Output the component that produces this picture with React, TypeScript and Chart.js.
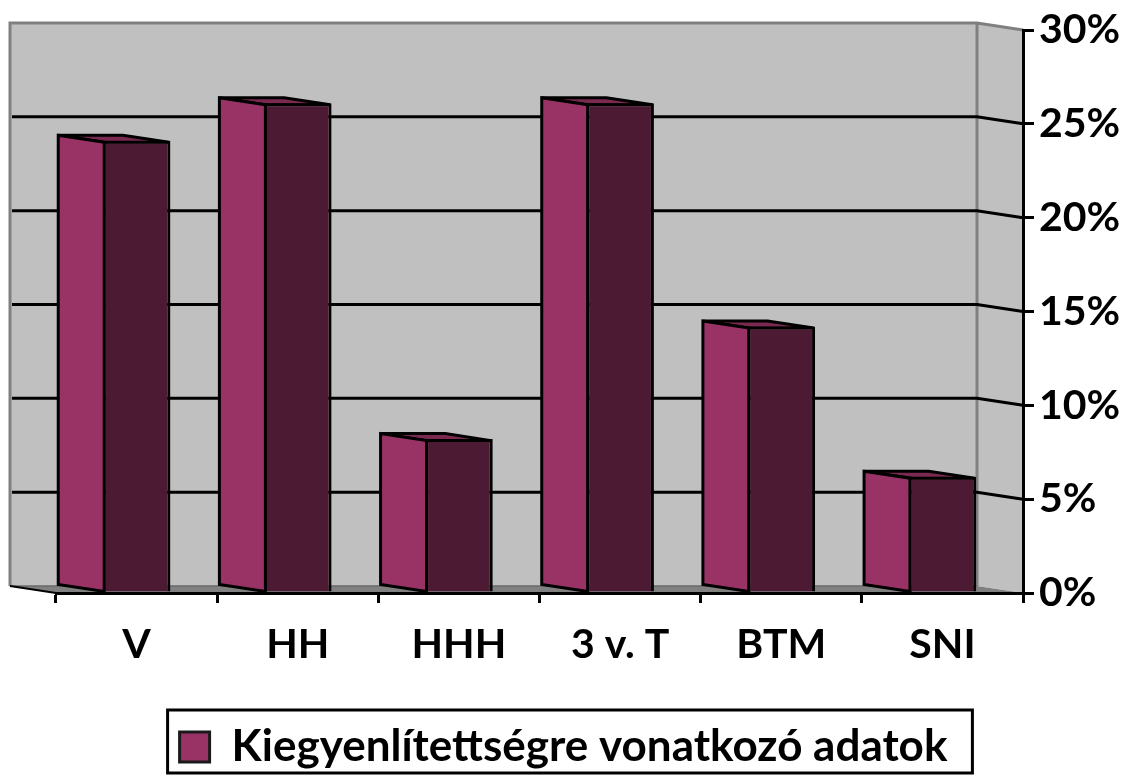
import React, { useEffect, useRef } from "react";
import { Chart, registerables } from "chart.js";

Chart.register(...registerables);

const categories = ["V", "HH", "HHH", "3 v. T", "BTM", "SNI"];
const seriesName = "Kiegyenlítettségre vonatkozó adatok";
const values = [24.1, 26.1, 8.2, 26.1, 14.2, 6.2];

const FONT = "Lato";
const DX = 46;
const DY = 7;
const PINK = "#993366";
const DARK = "#4c1a33";
const TOP = "#7a2950";
const WALL = "#c0c0c0";
const GREY = "#808080";
const BW = 3;

function poly(ctx: CanvasRenderingContext2D, pts: number[][], fill: string | null, stroke: string | null, lw = BW) {
  ctx.beginPath();
  pts.forEach(([x, y], i) => (i ? ctx.lineTo(x, y) : ctx.moveTo(x, y)));
  ctx.closePath();
  if (fill) {
    ctx.fillStyle = fill;
    ctx.fill();
  }
  if (stroke) {
    ctx.strokeStyle = stroke;
    ctx.lineWidth = lw;
    ctx.lineJoin = "miter";
    ctx.stroke();
  }
}

const plugin3d = {
  id: "plugin3d",
  afterLayout(chart: any) {
    // Centre the legend on the page's legend frame rather than on the padded area.
    chart.legend.left -= 28;
    chart.legend.right -= 28;
  },
  beforeDraw(chart: any) {
    const { ctx, chartArea: a } = chart;
    ctx.save();
    const bx0 = a.left - DX;
    const bx1 = a.right - DX;
    const by0 = a.top - DY;
    const by1 = a.bottom - DY;
    poly(ctx, [[bx1, by0], [a.right, a.top], [a.right, a.bottom], [bx1, by1]], WALL, null);
    poly(ctx, [[bx0, by0], [bx1, by0], [bx1, by1], [bx0, by1]], WALL, null);
    poly(ctx, [[bx0, by1], [bx1, by1], [a.right, a.bottom], [a.left, a.bottom]], GREY, null);
    ctx.strokeStyle = GREY;
    ctx.lineWidth = 3;
    ctx.beginPath();
    ctx.moveTo(bx0, by1);
    ctx.lineTo(bx0, by0);
    ctx.lineTo(bx1, by0);
    ctx.lineTo(a.right, a.top);
    ctx.moveTo(bx1, by0);
    ctx.lineTo(bx1, by1);
    ctx.stroke();
    ctx.strokeStyle = "#6a6a6a";
    ctx.lineWidth = 1.5;
    ctx.beginPath();
    ctx.moveTo(bx0, by1);
    ctx.lineTo(bx1, by1);
    ctx.stroke();
    ctx.strokeStyle = "#000";
    ctx.lineWidth = 2;
    ctx.beginPath();
    ctx.moveTo(bx0, by1);
    ctx.lineTo(a.left, a.bottom);
    ctx.stroke();
    const y = chart.scales.y;
    ctx.lineWidth = 3;
    y.ticks.forEach((t: any) => {
      if (t.value === 0 || t.value === y.max) return;
      const py = y.getPixelForValue(t.value);
      ctx.beginPath();
      ctx.moveTo(bx0 + 2, py - DY);
      ctx.lineTo(bx1, py - DY);
      ctx.lineTo(a.right, py);
      ctx.stroke();
    });
    ctx.restore();
  },
  beforeDatasetsDraw(chart: any) {
    const { ctx } = chart;
    ctx.save();
    chart.getDatasetMeta(0).data.forEach((bar: any) => {
      const l = bar.x - bar.width / 2 + BW / 2;
      const r = bar.x + bar.width / 2 - BW / 2;
      const t = bar.y + BW / 2;
      poly(ctx, [[l - DX, t - DY], [r - DX, t - DY], [r, t], [l, t]], TOP, "#000");
      poly(ctx, [[l - DX, t - DY], [l, t], [l, bar.base], [l - DX, bar.base - DY]], PINK, "#000");
    });
    ctx.restore();
  },
  afterDraw(chart: any) {
    const { ctx, legend } = chart;
    const box = legend.legendHitBoxes[0];
    ctx.save();
    ctx.strokeStyle = "#000";
    ctx.lineWidth = 3;
    ctx.strokeRect(box.left - 12, 710, box.width + 37, 63);
    ctx.restore();
  },
};

export default function App() {
  const ref = useRef<HTMLCanvasElement>(null);
  useEffect(() => {
    const chart = new Chart(ref.current as HTMLCanvasElement, {
      type: "bar",
      data: {
        labels: categories,
        datasets: [
          {
            label: seriesName,
            data: values,
            backgroundColor: DARK,
            borderColor: "#000",
            borderWidth: BW,
            barPercentage: 0.42,
            categoryPercentage: 1,
          },
        ],
      },
      plugins: [plugin3d],
      options: {
        responsive: false,
        animation: false,
        layout: { padding: { left: 56, top: 30, right: 0, bottom: 0 } },
        plugins: {
          tooltip: { enabled: false },
          legend: {
            position: "bottom",
            labels: {
              boxWidth: 30,
              boxHeight: 30,
              padding: 14,
              color: "#000",
              font: { family: FONT, size: 44, weight: "bold" },
              generateLabels: (c: any) =>
                Chart.defaults.plugins.legend.labels.generateLabels(c).map((l: any) => ({
                  ...l,
                  fillStyle: PINK,
                  strokeStyle: "#1a1a1a",
                  lineWidth: 3,
                })),
            },
          },
        },
        scales: {
          x: {
            afterFit: (s: any) => {
              s.height = 118;
            },
            border: { color: "#000", width: 3 },
            grid: { drawOnChartArea: false, color: "#000", lineWidth: 3, tickLength: 10 },
            ticks: { color: "#000", padding: 17, maxRotation: 0, font: { family: FONT, size: 41, weight: "bold" } },
          },
          y: {
            position: "right",
            min: 0,
            max: 30,
            afterFit: (s: any) => {
              s.width = 104;
            },
            border: { color: "#000", width: 3 },
            grid: { drawOnChartArea: false, color: "#000", lineWidth: 3, tickLength: 11 },
            ticks: {
              stepSize: 5,
              color: "#000",
              padding: 5,
              font: { family: FONT, size: 41, weight: "bold" },
              callback: (v: any) => `${v}%`,
            },
          },
        },
      },
    } as any);
    return () => chart.destroy();
  }, []);
  return (
    <canvas
      ref={ref}
      width={1127}
      height={779}
      style={{ position: "fixed", left: 0, top: 0, width: 1127, height: 779, display: "block" }}
    />
  );
}
